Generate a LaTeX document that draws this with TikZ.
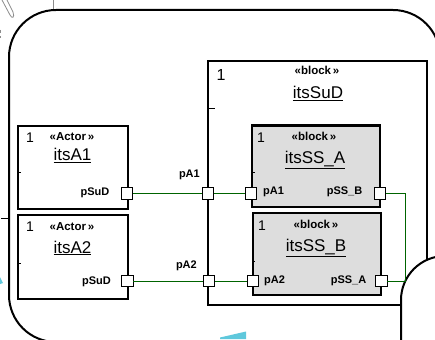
\documentclass[tikz,border=0pt]{standalone}
\usepackage{fontspec}
\setmainfont{Liberation Sans}
\definecolor{conngreen}{RGB}{0,100,0}
\definecolor{partgray}{RGB}{221,221,221}
\definecolor{artcyan}{RGB}{95,200,220}
\definecolor{artgray}{RGB}{140,140,140}
\begin{document}
\begin{tikzpicture}[x=1pt,y=-1pt,
  frameline/.style={line width=2pt},
  partbox/.style={draw, line width=2pt, inner sep=0pt, outer sep=0pt, anchor=north west},
  subbox/.style={partbox, fill=partgray},
  port/.style={draw, fill=white, line width=0.9pt, minimum size=11.5pt, inner sep=0pt, outer sep=0pt},
  conn/.style={draw=conngreen, line width=0.9pt},
  tick/.style={line width=0.9pt},
  numtxt/.style={inner sep=0pt, anchor=base, font=\fontsize{14}{14}\selectfont},
  stereo/.style={inner sep=0pt, anchor=base, font=\fontsize{11.5}{11.5}\selectfont\bfseries},
  nametxt/.style={inner sep=0pt, anchor=base, font=\fontsize{17}{17}\selectfont},
  porttxt/.style={inner sep=0pt, font=\fontsize{11}{11}\selectfont\bfseries},
]
\useasboundingbox (0,0) rectangle (435,339);
\clip (0,0) rectangle (435,339);

% background artefacts of the cropped screenshot
\draw[artgray, line width=0.8pt] (2,0) -- (10,15) .. controls (12,19) and (15,18) .. (13,12) -- (7,0);
\draw[artgray, line width=0.8pt] (53,0) -- (53,10);
\draw[artgray, line width=0.8pt, dashed] (0.6,30) -- (0.6,38);
\fill[artcyan] (220,337.5) -- (246,331.5) -- (246,339) -- (220,339) -- cycle;
\fill[artcyan] (0,277) -- (3,283) -- (0,284) -- cycle;

% outer frame
\draw[frameline, rounded corners=47pt] (9,10) rectangle (440,342);
\draw[tick] (1,218) -- (9,218);

% parts
\node[partbox, minimum width=219.5pt, minimum height=243.5pt] (itsSuD) at (207.5,61) {};
\node[partbox, minimum width=110pt, minimum height=83pt] (itsA1) at (18,126) {};
\node[partbox, minimum width=110pt, minimum height=84pt] (itsA2) at (18,215) {};
\node[subbox, minimum width=127.5pt, minimum height=81.5pt] (itsSSA) at (252,125.5) {};
\node[subbox, minimum width=128.5pt, minimum height=82pt] (itsSSB) at (252.5,213) {};

% overlapping shape at bottom right
\fill[white] (401,400) -- (401,300) arc[start angle=180, end angle=270, radius=44] -- (500,256) -- (500,400) -- cycle;
\draw[frameline] (401,400) -- (401,300) arc[start angle=180, end angle=270, radius=44] -- (500,256);

% ticks
\draw[tick] (207.5,108) -- (215,108);
\draw[tick] (18.5,172) -- (21,172);
\draw[tick] (18.5,263) -- (21,263);
\draw[tick] (252,172) -- (254.5,172);
\draw[tick] (252.5,261) -- (255,261);

% texts
\node[numtxt] (nA1) at (30,142) {1};
\node[stereo] (sA1) at (72,140) {«Actor\,»};
\node[nametxt] (tA1) at (72.5,160.5) {\underline{itsA1}};
\node[numtxt] (nA2) at (30,231.5) {1};
\node[stereo] (sA2) at (72,230.5) {«Actor\,»};
\node[nametxt] (tA2) at (72.5,253) {\underline{itsA2}};

\node[numtxt, font=\fontsize{16}{16}\selectfont] (nSuD) at (221,81) {1};
\node[stereo] (sSuD) at (317,75) {«block\,»};
\node[nametxt] (tSuD) at (318,99) {\underline{itsSuD}};

\node[numtxt] (nSSA) at (261,142) {1};
\node[stereo] (sSSA) at (314,140) {«block\,»};
\node[nametxt] (tSSA) at (315,163) {\underline{itsSS\_A}};
\node[numtxt] (nSSB) at (262,230.5) {1};
\node[stereo] (sSSB) at (316,228.5) {«block\,»};
\node[nametxt] (tSSB) at (316,251.5) {\underline{itsSS\_B}};

% ports
\node[port] (pSuD1) at (127,193.5) {};
\node[port] (pA1o) at (208,193.5) {};
\node[port] (pA1i) at (251,193.5) {};
\node[port] (pSSB) at (380,193.5) {};
\node[port] (pSuD2) at (127.5,281) {};
\node[port] (pA2o) at (209,281) {};
\node[port] (pA2i) at (253,281) {};
\node[port] (pSSA) at (381.5,281) {};

% port labels
\node[porttxt, anchor=base east] (lSuD1) at (109.5,195) {pSuD};
\node[porttxt, anchor=base east] (lSuD2) at (111,284) {pSuD};
\node[porttxt, anchor=base east] (lA1o) at (200,177) {pA1};
\node[porttxt, anchor=base east] (lA2o) at (197,268.5) {pA2};
\node[porttxt, anchor=base west] (lA1i) at (263,194) {pA1};
\node[porttxt, anchor=base east] (lSSB) at (362.5,194) {pSS\_B};
\node[porttxt, anchor=base west] (lA2i) at (264,283.5) {pA2};
\node[porttxt, anchor=base east] (lSSA) at (366.5,283.5) {pSS\_A};

% connectors
\coordinate (turn) at (405.5,237);
\draw[conn] (pSuD1) -- (pA1o);
\draw[conn] (pA1o) -- (pA1i);
\draw[conn] (pSuD2) -- (pA2o);
\draw[conn] (pA2o) -- (pA2i);
\draw[conn] (pSSB.east) -| (turn) |- (pSSA.east);
\end{tikzpicture}
\end{document}
